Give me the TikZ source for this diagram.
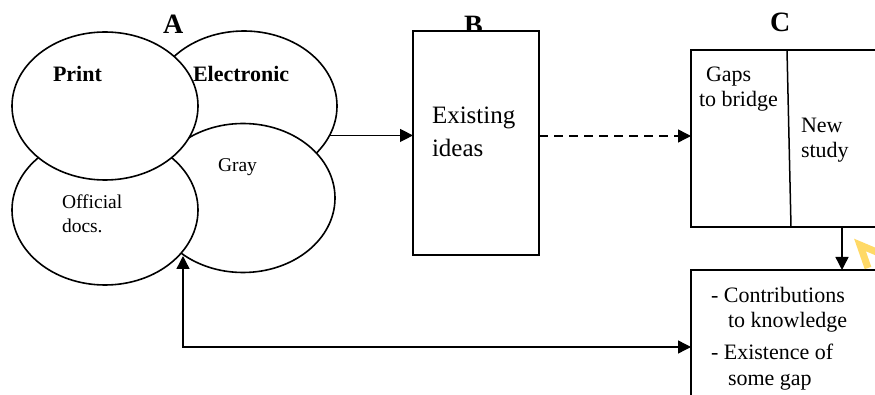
\documentclass[tikz,border=0pt]{standalone}
\usepackage{fontspec}
\setmainfont{Liberation Serif}
\usetikzlibrary{shapes.geometric,arrows.meta,calc}
\begin{document}
\begin{tikzpicture}[x=1pt,y=-1pt,
  every node/.style={inner sep=0pt,outer sep=0pt},
  src/.style={ellipse,draw,fill=white,line width=1.6pt,minimum width=186pt,minimum height=150pt},
  boxnode/.style={draw,fill=white,line width=1.5pt,anchor=north west},
  txt/.style={anchor=base west,font=\fontsize{22}{26}\selectfont},
  txtb/.style={anchor=base west,font=\fontsize{22}{26}\selectfont\bfseries},
  txts/.style={anchor=base west,font=\fontsize{19.5}{23}\selectfont},
  txtl/.style={anchor=base west,font=\fontsize{25}{30}\selectfont},
  head/.style={anchor=base west,font=\fontsize{28}{32}\selectfont\bfseries},
  conn/.style={line width=1.4pt},
  arr/.style={conn,-{Triangle[length=13pt,width=13pt]}},
  darr/.style={conn,{Triangle[length=13pt,width=13pt]}-{Triangle[length=13pt,width=13pt]}},
  mark yellow/.style={line width=7pt,draw={rgb,255:red,255;green,217;blue,102}}
]
\useasboundingbox (0,0) rectangle (875,395);
\clip (0,0) rectangle (875,395);

% A: overlapping source ellipses
\node[src,minimum width=186pt,minimum height=150pt] (elec) at (244,106) {};
\node[src,minimum width=184pt,minimum height=149pt] (gray) at (243,198) {};
\node[src] (off) at (105,210) {};
\node[src,minimum height=148pt] (print) at (105,106) {};

\node[head] (hA) at (163,34) {A};
\node[txtb] (tPrint) at (53,82) {Print};
\node[txtb] (tElec) at (193,82) {Electronic};
\node[txts] (tGray) at (218,172) {Gray};
\node[txts] (tOff1) at (62,209) {Official};
\node[txts] (tOff2) at (62,233) {docs.};

% B
\node[head] (hB) at (464,35) {B};
\node[boxnode,minimum width=126pt,minimum height=224pt] (B) at (413,31) {};
\node[txtl] (tEx1) at (432,124) {Existing};
\node[txtl] (tEx2) at (432,157) {ideas};

% C
\node[head] (hC) at (770,32) {C};
\node[boxnode,minimum width=200pt,minimum height=177pt] (C) at (691,50) {};
\draw[line width=1.5pt] ($(C.north west)+(96,0)$) -- ($(C.south west)+(100,0)$);
\node[txt] (tGap1) at (706,82) {Gaps};
\node[txt] (tGap2) at (699,107) {to bridge};
\node[txt] (tNew1) at (801,133) {New};
\node[txt] (tNew2) at (801,158) {study};

% D
\node[boxnode,minimum width=200pt,minimum height=140pt] (D) at (691,270) {};
\node[txt] (tD1) at (711,302) {- Contributions};
\node[txt] (tD2) at (728,327) {to knowledge};
\node[txt] (tD3) at (711,359) {- Existence of};
\node[txt] (tD4) at (728,385) {some gap};

% connectors
\coordinate (eOut) at (elec.-19.4);
\draw[arr] (eOut) -- (eOut -| B.west);
\coordinate (bOut) at (B.east |- 0,136);
\draw[arr,dash pattern=on 9pt off 6pt] (bOut) -- (bOut -| C.west);
\draw[arr] ($(C.south west)+(151,0)$) -- ($(D.north west)+(151,0)$);
\coordinate (fb) at (183,256);
\draw[darr] (fb) |- (D.west |- 0,347);

% yellow mark at the edge
\draw[mark yellow,line join=miter] (879,253) -- (860,245) -- (868,268);
\end{tikzpicture}
\end{document}
